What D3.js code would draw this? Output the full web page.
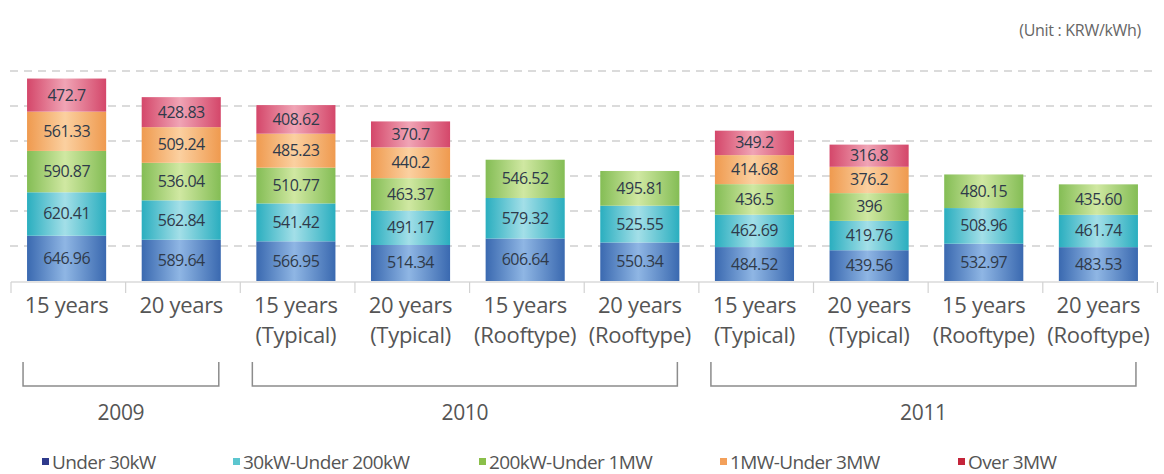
<!DOCTYPE html>
<html>
<head>
<meta charset="utf-8">
<script src="https://cdn.jsdelivr.net/npm/d3@7"></script>
<style>
  html, body { margin: 0; padding: 0; background: #fff; }
  svg { display: block; }
  text { font-family: "Open Sans", "DejaVu Sans", sans-serif; }
</style>
</head>
<body>
<svg id="chart" width="1164" height="474"></svg>
<script>
// Feed-in tariff (KRW/kWh) by plant capacity, per contract period and year
const categories = ["c0","c1","c2","c3","c4","c5","c6","c7","c8","c9"];
const labelLine1 = ["15 years","20 years","15 years","20 years","15 years","20 years","15 years","20 years","15 years","20 years"];
const labelLine2 = ["","","(Typical)","(Typical)","(Rooftype)","(Rooftype)","(Typical)","(Typical)","(Rooftype)","(Rooftype)"];

const seriesNames = ["Under 30kW","30kW-Under 200kW","200kW-Under 1MW","1MW-Under 3MW","Over 3MW"];
const under30kW   = ["646.96","589.64","566.95","514.34","606.64","550.34","484.52","439.56","532.97","483.53"];
const under200kW  = ["620.41","562.84","541.42","491.17","579.32","525.55","462.69","419.76","508.96","461.74"];
const under1MW    = ["590.87","536.04","510.77","463.37","546.52","495.81","436.5","396","480.15","435.60"];
const under3MW    = ["561.33","509.24","485.23","440.2",null,null,"414.68","376.2",null,null];
const over3MW     = ["472.7","428.83","408.62","370.7",null,null,"349.2","316.8",null,null];
const seriesValues = [under30kW, under200kW, under1MW, under3MW, over3MW];

const yearGroups = ["2009","2010","2011"];
const yearFirst  = [0, 2, 6];
const yearLast   = [1, 5, 9];

const yTicks = [500, 1000, 1500, 2000, 2500, 3000];

// bar fills: edge colour, centre highlight; legend swatch colour
const edgeColors   = ["#3a69b0", "#2aaebf", "#84bd55", "#ef9a4f", "#d4476a"];
const centerColors = ["#8fb6e4", "#a3dfe8", "#d0e8a2", "#fbd0a0", "#f0a4b5"];
const swatchColors = ["#2e3a8c", "#5cc6cf", "#8bbf4a", "#f3a05a", "#c4243a"];

const svg = d3.select("#chart");

const x = d3.scaleBand().domain(categories).range([11, 1154]).paddingInner(0.31).paddingOuter(0.14);
const y = d3.scaleLinear().domain([0, 3000]).range([281, 71]);

// gradients
const defs = svg.append("defs");
seriesNames.forEach((name, i) => {
  const g = defs.append("linearGradient").attr("id", "grad" + i)
    .attr("x1", "0%").attr("x2", "100%").attr("y1", "0%").attr("y2", "0%");
  g.append("stop").attr("offset", "0%").attr("stop-color", edgeColors[i]);
  g.append("stop").attr("offset", "48%").attr("stop-color", centerColors[i]);
  g.append("stop").attr("offset", "100%").attr("stop-color", edgeColors[i]);
});

// dashed gridlines
svg.append("g")
  .selectAll("line").data(yTicks).join("line")
  .attr("x1", 10).attr("x2", 1152)
  .attr("y1", d => y(d)).attr("y2", d => y(d))
  .attr("stroke", "#cfcfcf").attr("stroke-width", 1.3)
  .attr("stroke-dasharray", "8,6");

// stacked data
const rows = categories.map((c, j) => {
  const r = { cat: c };
  seriesNames.forEach((s, i) => { r[s] = seriesValues[i][j] == null ? 0 : +seriesValues[i][j]; });
  return r;
});
const stacked = d3.stack().keys(seriesNames)(rows);

const layers = svg.append("g").selectAll("g").data(stacked).join("g")
  .attr("fill", (d, i) => `url(#grad${i})`);

layers.selectAll("rect")
  .data(d => d.filter(p => p[1] - p[0] > 0))
  .join("rect")
  .attr("x", d => x(d.data.cat))
  .attr("width", x.bandwidth())
  .attr("y", d => y(d[1]))
  .attr("height", d => y(d[0]) - y(d[1]));

// segment value labels
stacked.forEach((layer, i) => {
  svg.append("g").selectAll("text")
    .data(layer.map((p, j) => ({ p, j })).filter(o => seriesValues[i][o.j] != null))
    .join("text")
    .attr("x", o => x(o.p.data.cat) + x.bandwidth() / 2)
    .attr("y", o => (y(o.p[0]) + y(o.p[1])) / 2 + 5.5)
    .attr("text-anchor", "middle")
    .attr("font-size", 16)
    .attr("letter-spacing", -0.5)
    .attr("fill", "#2f3a4a")
    .text(o => seriesValues[i][o.j]);
});

// x axis baseline with band separators
const axisG = svg.append("g");
axisG.append("line").attr("x1", 11).attr("x2", 1154).attr("y1", 282).attr("y2", 282)
  .attr("stroke", "#c8c8c8").attr("stroke-width", 1.2);
const step = x.step();
const bounds = d3.range(categories.length + 1).map(k => x(categories[0]) - x.paddingOuter() * step + k * step);
axisG.selectAll("line.sep").data(bounds).join("line").attr("class", "sep")
  .attr("x1", d => d).attr("x2", d => d).attr("y1", 282).attr("y2", 293)
  .attr("stroke", "#d2d2d2").attr("stroke-width", 1.2);

// category labels
const catG = svg.append("g").attr("fill", "#555").attr("font-size", 22).attr("text-anchor", "middle")
  .attr("letter-spacing", -0.3);
catG.selectAll("text.l1").data(categories).join("text").attr("class", "l1")
  .attr("x", c => x(c) + x.bandwidth() / 2).attr("y", 313)
  .text((c, j) => labelLine1[j]);
catG.selectAll("text.l2").data(categories).join("text").attr("class", "l2")
  .attr("x", c => x(c) + x.bandwidth() / 2).attr("y", 343)
  .text((c, j) => labelLine2[j]);

// year brackets
const brG = svg.append("g");
yearGroups.forEach((yr, k) => {
  const x0 = x(categories[yearFirst[k]]) - 4;
  const x1 = x(categories[yearLast[k]]) + x.bandwidth() - 2;
  brG.append("path")
    .attr("d", `M${x0},362 V386 H${x1} V362`)
    .attr("fill", "none").attr("stroke", "#8c8c8c").attr("stroke-width", 1.5);
  brG.append("text")
    .attr("x", (x0 + x1) / 2).attr("y", 420)
    .attr("text-anchor", "middle").attr("font-size", 21).attr("fill", "#555")
    .attr("letter-spacing", -0.3)
    .text(yr);
});

// unit caption
svg.append("text").attr("x", 1141).attr("y", 36).attr("text-anchor", "end")
  .attr("font-size", 16).attr("fill", "#666").attr("letter-spacing", -0.3)
  .text("(Unit : KRW/kWh)");

// legend
const legendX = [42, 233, 479, 720, 958];
const lg = svg.append("g").selectAll("g").data(seriesNames).join("g")
  .attr("transform", (d, i) => `translate(${legendX[i]},462)`);
lg.append("rect").attr("x", 0).attr("y", -4).attr("width", 7).attr("height", 7)
  .attr("fill", (d, i) => swatchColors[i]);
lg.append("text").attr("x", 10).attr("y", 7).attr("font-size", 19).attr("fill", "#555")
  .attr("letter-spacing", -0.6)
  .text(d => d);
</script>
</body>
</html>
